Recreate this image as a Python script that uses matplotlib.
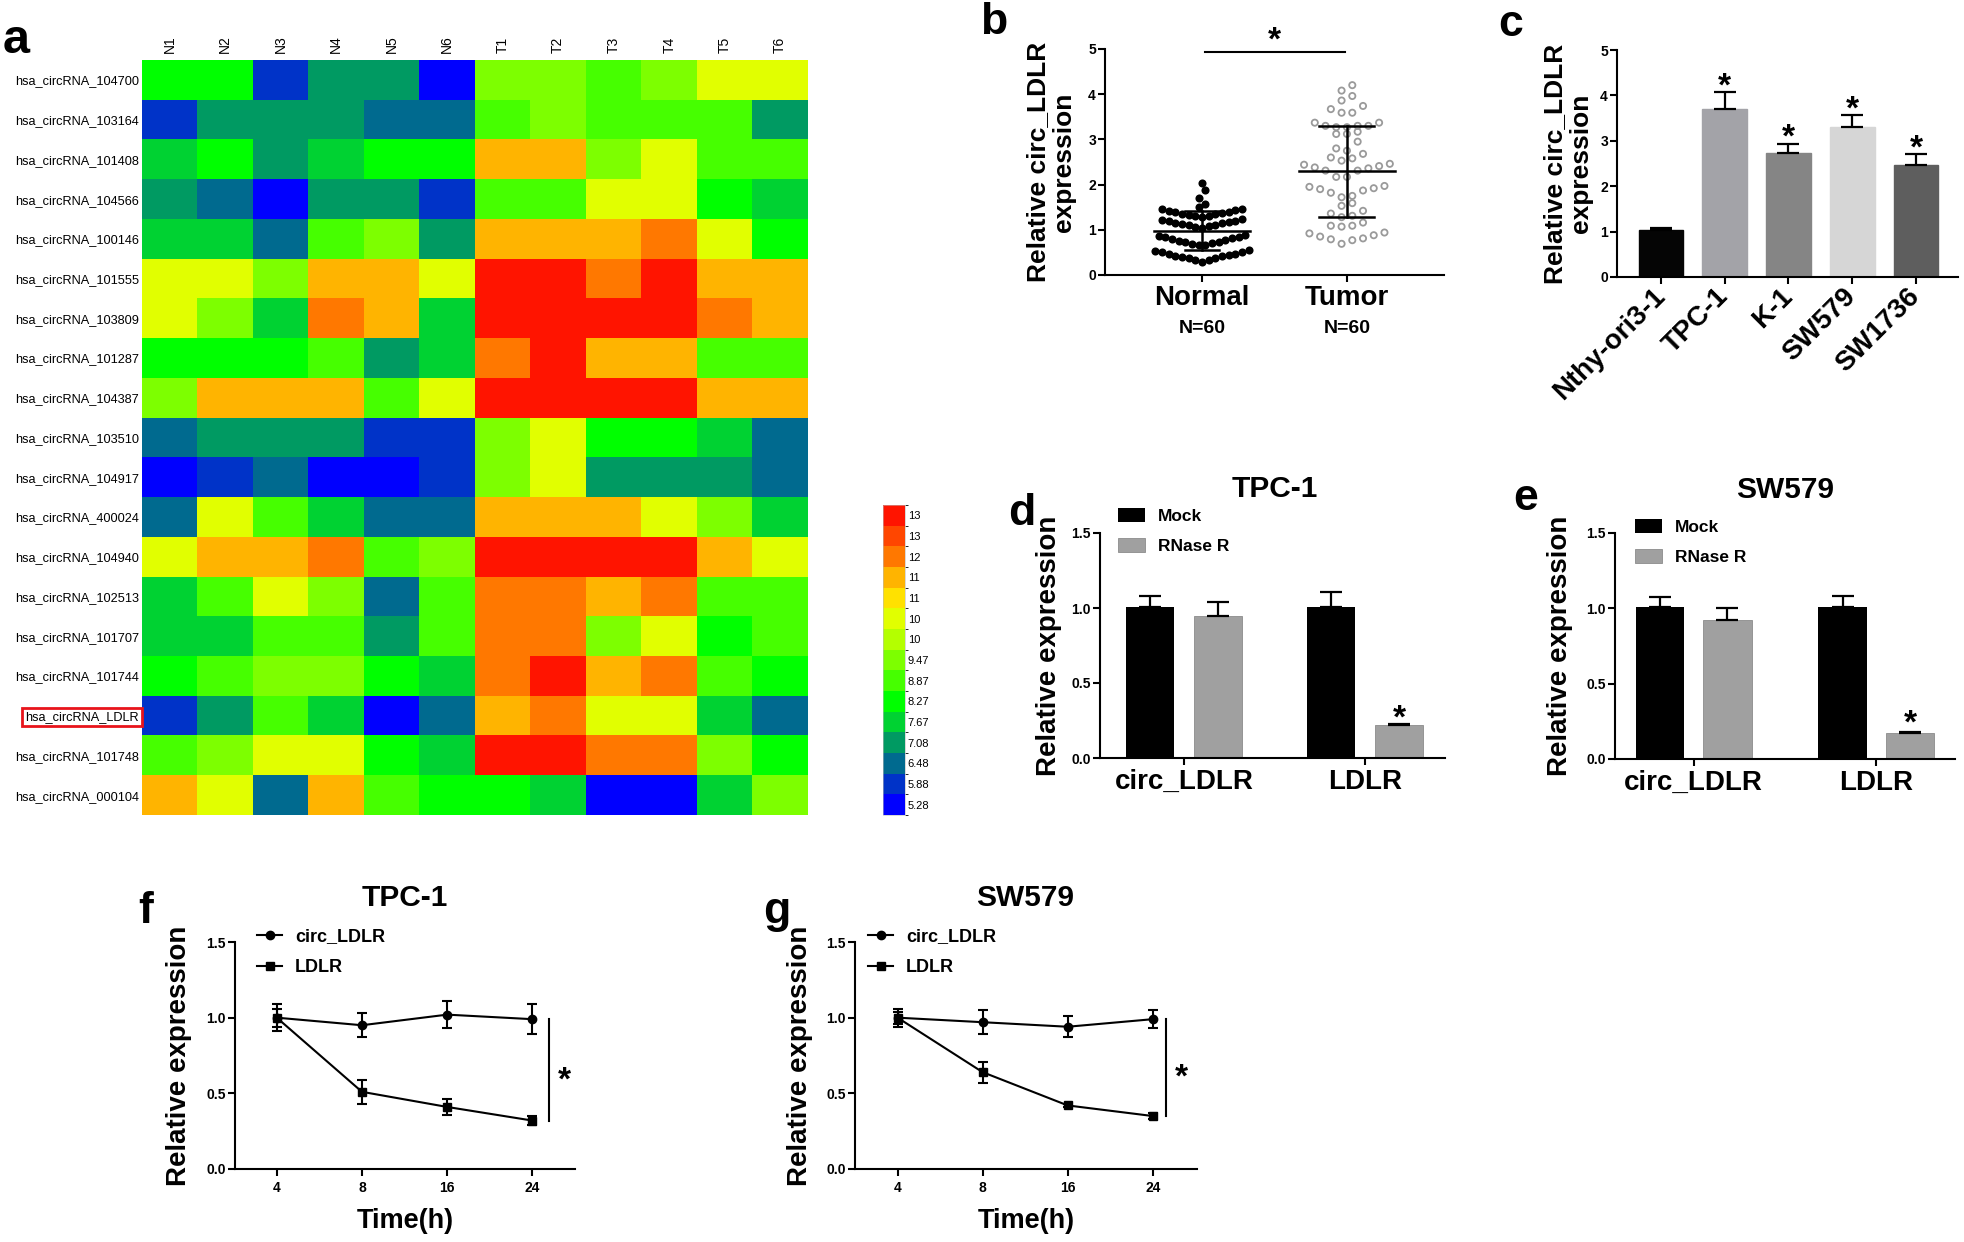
import numpy as np
import matplotlib
matplotlib.use("Agg")
import matplotlib.pyplot as plt
from matplotlib.colors import ListedColormap, BoundaryNorm
from matplotlib.cm import ScalarMappable
from matplotlib import transforms

# ---------------- data ----------------
# a: heatmap (log2 expression)
heat_cols = ["N1", "N2", "N3", "N4", "N5", "N6", "T1", "T2", "T3", "T4", "T5", "T6"]
heat_rows = ["hsa_circRNA_104700", "hsa_circRNA_103164", "hsa_circRNA_101408",
             "hsa_circRNA_104566", "hsa_circRNA_100146", "hsa_circRNA_101555",
             "hsa_circRNA_103809", "hsa_circRNA_101287", "hsa_circRNA_104387",
             "hsa_circRNA_103510", "hsa_circRNA_104917", "hsa_circRNA_400024",
             "hsa_circRNA_104940", "hsa_circRNA_102513", "hsa_circRNA_101707",
             "hsa_circRNA_101744", "hsa_circRNA_LDLR", "hsa_circRNA_101748",
             "hsa_circRNA_000104"]
heat_vals = [
    [8.27, 8.27, 5.88, 7.08, 7.08, 5.28, 9.47, 9.47, 8.87, 9.47, 10.66, 10.66],
    [5.88, 7.08, 7.08, 7.08, 6.48, 6.48, 8.87, 9.47, 8.87, 8.87, 8.87, 7.08],
    [7.67, 8.27, 7.08, 7.67, 8.27, 8.27, 11.85, 11.85, 9.47, 10.66, 8.87, 8.87],
    [7.08, 6.48, 5.28, 7.08, 7.08, 5.88, 8.87, 8.87, 10.66, 10.66, 8.27, 7.67],
    [7.67, 7.67, 6.48, 8.87, 9.47, 7.08, 11.85, 11.85, 11.85, 12.45, 10.66, 8.27],
    [10.66, 10.66, 9.47, 11.85, 11.85, 10.66, 13.65, 13.65, 12.45, 13.65, 11.85, 11.85],
    [10.66, 9.47, 7.67, 12.45, 11.85, 7.67, 13.65, 13.65, 13.65, 13.65, 12.45, 11.85],
    [8.27, 8.27, 8.27, 8.87, 7.08, 7.67, 12.45, 13.65, 11.85, 11.85, 8.87, 8.87],
    [9.47, 11.85, 11.85, 11.85, 8.87, 10.66, 13.65, 13.65, 13.65, 13.65, 11.85, 11.85],
    [6.48, 7.08, 7.08, 7.08, 5.88, 5.88, 9.47, 10.66, 8.27, 8.27, 7.67, 6.48],
    [5.28, 5.88, 6.48, 5.28, 5.28, 5.88, 9.47, 10.66, 7.08, 7.08, 7.08, 6.48],
    [6.48, 10.66, 8.87, 7.67, 6.48, 6.48, 11.85, 11.85, 11.85, 10.66, 9.47, 7.67],
    [10.66, 11.85, 11.85, 12.45, 8.87, 9.47, 13.65, 13.65, 13.65, 13.65, 11.85, 10.66],
    [7.67, 8.87, 10.66, 9.47, 6.48, 8.87, 12.45, 12.45, 11.85, 12.45, 8.87, 8.87],
    [7.67, 7.67, 8.87, 8.87, 7.08, 8.87, 12.45, 12.45, 9.47, 10.66, 8.27, 8.87],
    [8.27, 8.87, 9.47, 9.47, 8.27, 7.67, 12.45, 13.65, 11.85, 12.45, 8.87, 8.27],
    [5.88, 7.08, 8.87, 7.67, 5.28, 6.48, 11.85, 12.45, 10.66, 10.66, 7.67, 6.48],
    [8.87, 9.47, 10.66, 10.66, 8.27, 7.67, 13.65, 13.65, 12.45, 12.45, 9.47, 8.27],
    [11.85, 10.66, 6.48, 11.85, 8.87, 8.27, 8.27, 7.67, 5.28, 5.28, 7.67, 9.47],
]
level_vals = [5.28, 5.88, 6.48, 7.08, 7.67, 8.27, 8.87, 9.47, 10.06, 10.66,
              11.26, 11.85, 12.45, 13.05, 13.65]
level_labels = ["5.28", "5.88", "6.48", "7.08", "7.67", "8.27", "8.87", "9.47",
                "10", "10", "11", "11", "12", "13", "13"]
level_colors = ["#0000FF", "#0033C8", "#006A8F", "#009A62", "#00D232", "#00FF00",
                "#46FF00", "#7DFF00", "#B4FF00", "#E1FF00", "#FFE100", "#FFB400",
                "#FF7800", "#FF4600", "#FF1400"]

# b: scatter, 60 tissues per group
normal_vals = [0.29, 0.33, 0.34, 0.37, 0.38, 0.40, 0.41, 0.43, 0.44, 0.46, 0.47, 0.50, 0.51, 0.54, 0.56,
               0.66, 0.67, 0.69, 0.70, 0.72, 0.74, 0.76, 0.78, 0.80, 0.82, 0.84, 0.85, 0.87, 0.89,
               1.05, 1.07, 1.08, 1.10, 1.11, 1.13, 1.14, 1.16, 1.17, 1.19, 1.20, 1.22, 1.23,
               1.29, 1.30, 1.31, 1.33, 1.34, 1.36, 1.37, 1.39, 1.40, 1.42, 1.43, 1.46, 1.47,
               1.51, 1.57, 1.70, 1.88, 2.03]
tumor_vals = [4.20, 4.08, 3.96, 3.86, 3.74, 3.67, 3.59, 3.59,
              3.37, 3.37, 3.30, 3.30, 3.30, 3.27, 3.27, 3.17, 3.12, 3.12,
              2.95, 2.80, 2.75, 2.68, 2.60, 2.58, 2.53,
              2.46, 2.44, 2.41, 2.38, 2.36, 2.31, 2.31, 2.17, 2.17,
              1.97, 1.95, 1.92, 1.90, 1.87, 1.82, 1.75, 1.72,
              1.59, 1.53, 1.42, 1.36, 1.31, 1.28, 1.16, 1.09, 1.09, 1.07,
              0.94, 0.92, 0.88, 0.85, 0.81, 0.79, 0.77, 0.69]
groups_b = ["Normal", "Tumor"]

# c: cell lines
cell_lines = ["Nthy-ori3-1", "TPC-1", "K-1", "SW579", "SW1736"]
cell_vals = [1.03, 3.71, 2.74, 3.30, 2.47]
cell_err = [0.04, 0.36, 0.20, 0.26, 0.24]
cell_colors = ["#050505", "#A3A3A8", "#858585", "#D6D6D6", "#5E5E5E"]

# d, e: RNase R
genes = ["circ_LDLR", "LDLR"]
d_mock, d_mock_err = [1.01, 1.01], [0.07, 0.10]
d_rnase, d_rnase_err = [0.95, 0.22], [0.09, 0.01]
e_mock, e_mock_err = [1.01, 1.01], [0.065, 0.07]
e_rnase, e_rnase_err = [0.92, 0.17], [0.08, 0.01]

# f, g: actinomycin D time course
times = ["4", "8", "16", "24"]
f_circ, f_circ_err = [1.00, 0.95, 1.02, 0.99], [0.09, 0.08, 0.09, 0.10]
f_ldlr, f_ldlr_err = [1.00, 0.51, 0.41, 0.32], [0.06, 0.08, 0.05, 0.03]
g_circ, g_circ_err = [1.00, 0.97, 0.94, 0.99], [0.06, 0.08, 0.07, 0.06]
g_ldlr, g_ldlr_err = [1.00, 0.64, 0.42, 0.35], [0.04, 0.07, 0.01, 0.02]

# ---------------- layout helpers ----------------
plt.rcParams["font.family"] = ["Liberation Sans", "DejaVu Sans"]
plt.rcParams["font.weight"] = "bold"
plt.rcParams["axes.linewidth"] = 1.5

W, H = 1964, 1242
fig = plt.figure(figsize=(W / 100, H / 100), dpi=100)


def rect(x0, y0, x1, y1):
    return [x0 / W, 1 - y1 / H, (x1 - x0) / W, (y1 - y0) / H]


def ftext(x, y, s, **kw):
    fig.text(x / W, 1 - y / H, s, **kw)


def prism(ax):
    for side in ("top", "right"):
        ax.spines[side].set_visible(False)
    ax.tick_params(direction="out", length=5, width=1.5, pad=1.5)
    ax.tick_params(axis="y", labelsize=10)
    for lab in ax.get_yticklabels():
        lab.set_fontweight("bold")


def star(ax, x, y, size=24):
    tr = transforms.offset_copy(ax.transData, fig=fig, y=-0.23 * size, units="points")
    ax.text(x, y, "*", ha="center", va="center", fontsize=size,
            fontweight="bold", transform=tr, clip_on=False)


def row_offsets(values, edges, step):
    vals = np.asarray(values, float)
    xs = np.zeros(len(vals))
    bins = np.digitize(vals, edges)
    for b in np.unique(bins):
        idx = np.where(bins == b)[0]
        idx = idx[np.argsort(vals[idx], kind="stable")]
        n = len(idx)
        if n % 2:
            slots = [0] + [s * k for k in range(1, n // 2 + 1) for s in (-1, 1)]
        else:
            slots = [s * (k - 0.5) for k in range(1, n // 2 + 1) for s in (-1, 1)]
        xs[idx] = np.array(slots[:n]) * step
    return xs


# ---------------- a: heatmap ----------------
bounds = [level_vals[0] - 0.3] + [(a + b) / 2 for a, b in zip(level_vals[:-1], level_vals[1:])] \
         + [level_vals[-1] + 0.3]
cmap = ListedColormap(level_colors)
norm = BoundaryNorm(bounds, cmap.N)

ax = fig.add_axes(rect(142, 60, 808, 815))
ax.imshow(np.array(heat_vals), cmap=cmap, norm=norm, aspect="auto", interpolation="nearest")
ax.set_xticks(range(len(heat_cols)))
ax.set_xticklabels(heat_cols, rotation=90, fontsize=10, fontweight="normal")
ax.set_yticks(range(len(heat_rows)))
ax.set_yticklabels(heat_rows, fontsize=9.2, fontweight="normal")
ax.tick_params(top=True, labeltop=True, bottom=False, labelbottom=False, length=0)
ax.tick_params(axis="x", pad=5)
ax.tick_params(axis="y", pad=2)
for s in ax.spines.values():
    s.set_visible(False)
ax.get_yticklabels()[heat_rows.index("hsa_circRNA_LDLR")].set_bbox(
    dict(boxstyle="square,pad=0.25", fc="white", ec="#E8141B", lw=2))

cax = fig.add_axes(rect(883, 505, 905, 815))
cb = fig.colorbar(ScalarMappable(norm=norm, cmap=cmap), cax=cax, ticks=level_vals)
cb.ax.set_yticklabels(level_labels)
cb.ax.tick_params(length=0, labelsize=8, pad=2)
for lab in cb.ax.get_yticklabels():
    lab.set_fontweight("normal")
cb.outline.set_linewidth(0.4)
cb.outline.set_edgecolor("#bbbbbb")

# ---------------- b: scatter ----------------
ax = fig.add_axes(rect(1105, 49, 1444, 275))
nx = row_offsets(normal_vals, [0.0, 0.6, 0.95, 1.26, 1.5, 1.65, 1.95, 2.2], 0.046)
tx = row_offsets(tumor_vals, [0.5, 1.0, 1.25, 1.5, 1.7, 2.0, 2.5, 2.75, 3.0, 3.2,
                              3.5, 3.75, 4.0, 4.3], 0.074)
ax.scatter(0 + nx, normal_vals, s=34, color="black", linewidths=0, zorder=2)
ax.scatter(1 + tx, tumor_vals, s=20, facecolors="none", edgecolors="#9A9A9A",
           linewidths=1.3, zorder=2)
for i, (vals, cap) in enumerate([(normal_vals, 0.12), (tumor_vals, 0.19)]):
    m, sd = np.mean(vals), np.std(vals, ddof=1)
    ax.plot([i - 0.33, i + 0.33], [m, m], color="black", lw=1.8, zorder=3)
    ax.plot([i, i], [m - sd, m + sd], color="black", lw=1.8, zorder=3)
    for yy in (m - sd, m + sd):
        ax.plot([i - cap, i + cap], [yy, yy], color="black", lw=1.8, zorder=3)
ax.plot([0.02, 0.99], [4.93, 4.93], color="black", lw=1.5, clip_on=False)
star(ax, 0.5, 5.35)
ax.set_xlim(-0.67, 1.67)
ax.set_ylim(0, 5)
ax.set_yticks(range(6))
ax.set_xticks([0, 1])
prism(ax)
ax.set_xticklabels(groups_b, fontsize=20, fontweight="bold")
ax.tick_params(axis="x", pad=2)
bt = transforms.blended_transform_factory(ax.transData, ax.transAxes)
for i in range(2):
    ax.text(i, -0.235, "N=60", transform=bt, ha="center", va="center",
            fontsize=14, fontweight="bold")
ax.set_ylabel("Relative circ_LDLR\nexpression", fontsize=19, fontweight="bold",
              linespacing=1.1)
ax.yaxis.set_label_coords(-0.085, 0.5)

# ---------------- c: cell lines ----------------
ax = fig.add_axes(rect(1617, 50, 1958, 277))
xc = np.arange(len(cell_lines))
ax.bar(xc, cell_vals, width=0.70, color=cell_colors, edgecolor=cell_colors,
       yerr=[np.zeros(len(xc)), cell_err], capsize=8,
       error_kw=dict(elinewidth=1.6, capthick=1.6, ecolor="black"))
for i in range(1, len(xc)):
    star(ax, xc[i], cell_vals[i] + cell_err[i] + 0.28)
ax.set_xlim(-0.69, 4.66)
ax.set_ylim(0, 5)
ax.set_yticks(range(6))
ax.set_xticks(xc)
prism(ax)
ax.set_xticklabels(cell_lines, rotation=45, ha="right", va="center",
                   rotation_mode="anchor", fontsize=20, fontweight="bold")
ax.tick_params(axis="x", pad=6)
ax.set_ylabel("Relative circ_LDLR\nexpression", fontsize=19, fontweight="bold",
              linespacing=1.1)
ax.yaxis.set_label_coords(-0.07, 0.5)


# ---------------- d, e: RNase R ----------------
def rnase_panel(r, mock, mock_err, rnase, rnase_err, off, xlim, star_y, leg_xy, ylab_x):
    ax = fig.add_axes(r)
    xg = np.arange(len(genes))
    bw = 0.265
    ax.bar(xg - off, mock, width=bw, color="black", label="Mock",
           yerr=[np.zeros(len(xg)), mock_err], capsize=8,
           error_kw=dict(elinewidth=1.6, capthick=1.6, ecolor="black"))
    ax.bar(xg + off, rnase, width=bw, color="#A0A0A0", edgecolor="#8C8C8C",
           linewidth=0.6, label="RNase R",
           yerr=[np.zeros(len(xg)), rnase_err], capsize=8,
           error_kw=dict(elinewidth=1.6, capthick=1.6, ecolor="black"))
    star(ax, 1 + off, star_y)
    ax.set_xlim(*xlim)
    ax.set_ylim(0, 1.5)
    ax.set_yticks([0, 0.5, 1.0, 1.5])
    ax.set_yticklabels(["0.0", "0.5", "1.0", "1.5"])
    ax.set_xticks(xg)
    prism(ax)
    ax.set_xticklabels(genes, fontsize=20, fontweight="bold")
    ax.tick_params(axis="x", pad=3)
    ax.set_ylabel("Relative expression", fontsize=20, fontweight="bold")
    ax.yaxis.set_label_coords(ylab_x, 0.5)
    ax.legend(loc="upper left", bbox_to_anchor=leg_xy, frameon=False,
              prop=dict(size=12.5, weight="bold"), handlelength=1.55,
              handleheight=0.86, handletextpad=0.75, labelspacing=0.8,
              borderpad=0, borderaxespad=0)
    return ax


rnase_panel(rect(1100, 533, 1445, 758), d_mock, d_mock_err, d_rnase, d_rnase_err,
            0.188, (-0.464, 1.442), 0.31, (0.052, 1.111), -0.11)
rnase_panel(rect(1615, 533, 1955, 759), e_mock, e_mock_err, e_rnase, e_rnase_err,
            0.185, (-0.43, 1.43), 0.28, (0.059, 1.062), -0.124)


# ---------------- f, g: time course ----------------
def time_panel(r, circ, circ_err, ldlr, ldlr_err, xlim, sig_x, leg_xy, ylab_x):
    ax = fig.add_axes(r)
    xt = np.arange(len(times))
    ax.plot(xt, circ, "-o", color="black", lw=1.5, ms=6, label="circ_LDLR", zorder=3)
    ax.plot(xt, ldlr, "-s", color="black", lw=1.5, ms=6, label="LDLR", zorder=3)
    for vals, err in ((circ, circ_err), (ldlr, ldlr_err)):
        ax.errorbar(xt, vals, yerr=err, fmt="none", ecolor="black",
                    elinewidth=1.5, capsize=3.5, capthick=1.5, zorder=2)
    ax.plot([sig_x, sig_x], [circ[-1], ldlr[-1]], color="black", lw=1.5, clip_on=False)
    star(ax, sig_x + 0.18, (circ[-1] + ldlr[-1]) / 2 - 0.02)
    ax.set_xlim(*xlim)
    ax.set_ylim(0, 1.5)
    ax.set_yticks([0, 0.5, 1.0, 1.5])
    ax.set_yticklabels(["0.0", "0.5", "1.0", "1.5"])
    ax.set_xticks(xt)
    prism(ax)
    ax.set_xticklabels(times, fontsize=10, fontweight="bold")
    ax.tick_params(axis="x", pad=4)
    ax.set_ylabel("Relative expression", fontsize=20, fontweight="bold")
    ax.yaxis.set_label_coords(ylab_x, 0.5)
    ax.set_xlabel("Time(h)", fontsize=19.5, fontweight="bold")
    ax.xaxis.set_label_coords(0.5, -0.17)
    ax.legend(loc="upper left", bbox_to_anchor=leg_xy, frameon=False,
              prop=dict(size=13, weight="bold"), handlelength=1.4,
              handletextpad=0.7, labelspacing=0.75, borderpad=0, borderaxespad=0)
    return ax


time_panel(rect(235, 942, 575, 1169), f_circ, f_circ_err, f_ldlr, f_ldlr_err,
           (-0.49, 3.5), 3.19, (0.065, 1.06), -0.126)
time_panel(rect(855, 942, 1197, 1169), g_circ, g_circ_err, g_ldlr, g_ldlr_err,
           (-0.5, 3.52), 3.16, (0.038, 1.06), -0.123)

# ---------------- titles and panel letters ----------------
for x, y, s in [(1275, 489, "TPC-1"), (1785, 490, "SW579"),
                (405, 898, "TPC-1"), (1025, 898, "SW579")]:
    ftext(x, y, s, ha="center", va="center", fontsize=21.5, fontweight="bold")

for x, y, s, fs in [(3, 53, "a", 35), (980, 34, "b", 32), (1498, 36, "c", 32),
                    (1008, 525, "d", 32), (1513, 510, "e", 32),
                    (138, 923, "f", 32), (763, 923, "g", 32)]:
    ftext(x, y, s, ha="left", va="baseline", fontsize=fs, fontweight="bold")

fig.savefig("out.png", dpi=100, facecolor="white")
